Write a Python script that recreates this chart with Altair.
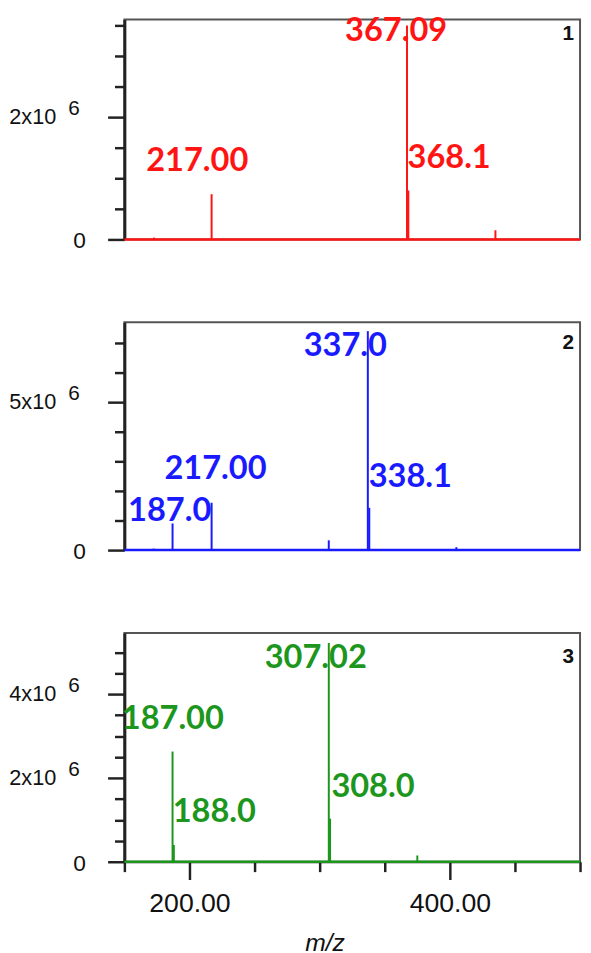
import altair as alt
import pandas as pd

# ---------------- data ----------------
# Panel 1 (red)
p1_mz = [172.7, 217.0, 367.09, 368.1, 435.0]
p1_int = [0.03e6, 0.74e6, 3.50e6, 0.80e6, 0.15e6]
p1_lab_c_text = ["367.09", "217.00"]
p1_lab_c_mz = [358.7, 206.0]
p1_lab_c_int = [3.66e6, 1.535e6]
p1_lab_l_text = ["368.1"]
p1_lab_l_mz = [367.5]
p1_lab_l_int = [1.584e6]
p1_ymax = 3.597e6
p1_ticks = [0, 0.5e6, 1e6, 1.5e6, 2e6, 2.5e6, 3e6, 3.5e6]
p1_major = [0, 2e6]
p1_major_lab = ["0", "2x10"]

# Panel 2 (blue)
p2_mz = [172.5, 187.0, 217.0, 307.0, 337.0, 338.1, 405.0]
p2_int = [0.05e6, 0.90e6, 1.60e6, 0.33e6, 7.40e6, 1.43e6, 0.10e6]
p2_lab_c_text = ["337.0", "217.00", "187.0"]
p2_lab_c_mz = [319.7, 220.0, 184.8]
p2_lab_c_int = [7.42e6, 3.26e6, 1.84e6]
p2_lab_l_text = ["338.1"]
p2_lab_l_mz = [337.7]
p2_lab_l_int = [2.99e6]
p2_ymax = 7.7e6
p2_ticks = [0, 1e6, 2e6, 3e6, 4e6, 5e6, 6e6, 7e6]
p2_major = [0, 5e6]
p2_major_lab = ["0", "5x10"]

# Panel 3 (green)
p3_mz = [187.0, 188.0, 307.02, 308.0, 375.0]
p3_int = [2.63e6, 0.40e6, 5.22e6, 1.03e6, 0.15e6]
p3_lab_c_text = ["307.02", "187.00"]
p3_lab_c_mz = [297.0, 187.2]
p3_lab_c_int = [5.24e6, 3.78e6]
p3_lab_l_text = ["308.0", "188.0"]
p3_lab_l_mz = [309.0, 187.1]
p3_lab_l_int = [2.16e6, 1.55e6]
p3_ymax = 5.46e6
p3_ticks = [0, 0.5e6, 1e6, 1.5e6, 2e6, 2.5e6, 3e6, 3.5e6, 4e6, 4.5e6, 5e6]
p3_major = [0, 2e6, 4e6]
p3_major_lab = ["0", "2x10", "4x10"]

x_range = [150, 500]
x_ticks = [150, 200, 250, 300, 350, 400, 450, 500]
x_major = [200, 400]
panel_ids = ["1", "2", "3"]
colors = ["#ff1414", "#1a1aff", "#1c961c"]

W = 462
H = [223, 231, 232]
NUM_Y = [4, 10.5, 13]

LABEL_FONT = "Lato"
AXIS_FONT = "Liberation Sans"


def in_list_expr(vals):
    return "indexof([" + ",".join(str(int(v)) for v in vals) + "], datum.value) >= 0"


def panel(idx, mz, inten, lc_t, lc_x, lc_y, ll_t, ll_x, ll_y, ymax, ticks, major, major_lab, show_x):
    color = colors[idx]
    xscale = alt.Scale(domain=x_range, nice=False, zero=False)
    yscale = alt.Scale(domain=[0, ymax], nice=False, zero=True)

    if show_x:
        xaxis = alt.Axis(
            values=x_ticks,
            labelExpr="indexof([200,400], datum.value) >= 0 ? format(datum.value, '.2f') : ''",
            tickSize=alt.condition(in_list_expr(x_major), alt.value(18), alt.value(10)),
            tickColor="#222", tickWidth=2.5,
            domainColor="#222", domainWidth=2,
            labelFont=AXIS_FONT, labelFontSize=27, labelColor="#111",
            labelPadding=11, labelFlush=False,
            title="m/z", titleFont=AXIS_FONT, titleFontSize=25,
            titleFontStyle="italic", titleFontWeight="normal", titleColor="#111",
            titleX=203, titleY=70, titleBaseline="top", titleAlign="center",
            grid=False,
        )
    else:
        xaxis = None

    yaxis = alt.Axis(
        values=ticks,
        labels=False,
        tickSize=alt.condition(in_list_expr(major), alt.value(17), alt.value(10)),
        tickColor="#222", tickWidth=2.5,
        domainColor="#222", domainWidth=3,
        title=None, grid=False,
    )

    def X(field):
        return alt.X(field, scale=xscale, axis=xaxis)

    def Y(field):
        return alt.Y(field, scale=yscale, axis=yaxis)

    base_df = pd.DataFrame({"x0": [x_range[0]], "x1": [x_range[1]]})
    peaks_df = pd.DataFrame({"mz": mz, "inten": inten})

    baseline = alt.Chart(base_df).mark_rule(color=color, strokeWidth=2.5).encode(
        x=X("x0:Q"),
        x2="x1:Q",
        y=alt.Y(datum=0, scale=yscale, axis=yaxis),
    )
    peaks = alt.Chart(peaks_df).mark_rule(color=color, strokeWidth=2).encode(
        x=X("mz:Q"),
        y=Y("inten:Q"),
        y2=alt.datum(0),
    )
    lab_c = alt.Chart(pd.DataFrame({"t": lc_t, "x": lc_x, "y": lc_y})).mark_text(
        color=color, font=LABEL_FONT, fontSize=33, fontWeight="bold",
        align="center", baseline="top",
    ).encode(x=X("x:Q"), y=Y("y:Q"), text="t:N")
    lab_l = alt.Chart(pd.DataFrame({"t": ll_t, "x": ll_x, "y": ll_y})).mark_text(
        color=color, font=LABEL_FONT, fontSize=33, fontWeight="bold",
        align="left", baseline="top",
    ).encode(x=X("x:Q"), y=Y("y:Q"), text="t:N")

    ydf = pd.DataFrame({"v": major, "t": major_lab})
    zero_lab = alt.Chart(ydf[ydf["v"] == 0]).mark_text(
        font=AXIS_FONT, fontSize=23, color="#111", align="right", baseline="middle", dy=2,
    ).encode(x=alt.value(-39), y=Y("v:Q"), text="t:N")
    nz = ydf[ydf["v"] != 0]
    mant_lab = alt.Chart(nz).mark_text(
        font=AXIS_FONT, fontSize=22, color="#111", align="right", baseline="middle",
    ).encode(x=alt.value(-69), y=Y("v:Q"), text="t:N")
    exp_lab = alt.Chart(nz).mark_text(
        font=AXIS_FONT, fontSize=21, color="#111", align="center", baseline="middle", dy=-8,
        text="6",
    ).encode(x=alt.value(-51), y=Y("v:Q"))

    num = alt.Chart(pd.DataFrame({"p": [panel_ids[idx]]})).mark_text(
        font=AXIS_FONT, fontSize=21, fontWeight="bold", color="#111",
        align="center", baseline="top", clip=True,
    ).encode(x=alt.value(W - 12), y=alt.value(NUM_Y[idx]), text="p:N")

    return alt.layer(baseline, peaks, lab_c, lab_l, zero_lab, mant_lab, exp_lab, num).properties(
        width=W, height=H[idx]
    )


c1 = panel(0, p1_mz, p1_int, p1_lab_c_text, p1_lab_c_mz, p1_lab_c_int,
           p1_lab_l_text, p1_lab_l_mz, p1_lab_l_int, p1_ymax, p1_ticks, p1_major, p1_major_lab, False)
c2 = panel(1, p2_mz, p2_int, p2_lab_c_text, p2_lab_c_mz, p2_lab_c_int,
           p2_lab_l_text, p2_lab_l_mz, p2_lab_l_int, p2_ymax, p2_ticks, p2_major, p2_major_lab, False)
c3 = panel(2, p3_mz, p3_int, p3_lab_c_text, p3_lab_c_mz, p3_lab_c_int,
           p3_lab_l_text, p3_lab_l_mz, p3_lab_l_int, p3_ymax, p3_ticks, p3_major, p3_major_lab, True)

chart = alt.vconcat(c1, c2, c3, spacing=68).properties(
    padding={"top": 0, "left": 0, "right": 0, "bottom": 0},
    background="white",
).configure_view(stroke="#555", strokeWidth=2)

chart.save("out.html", embed_options={"renderer": "svg", "actions": False})
